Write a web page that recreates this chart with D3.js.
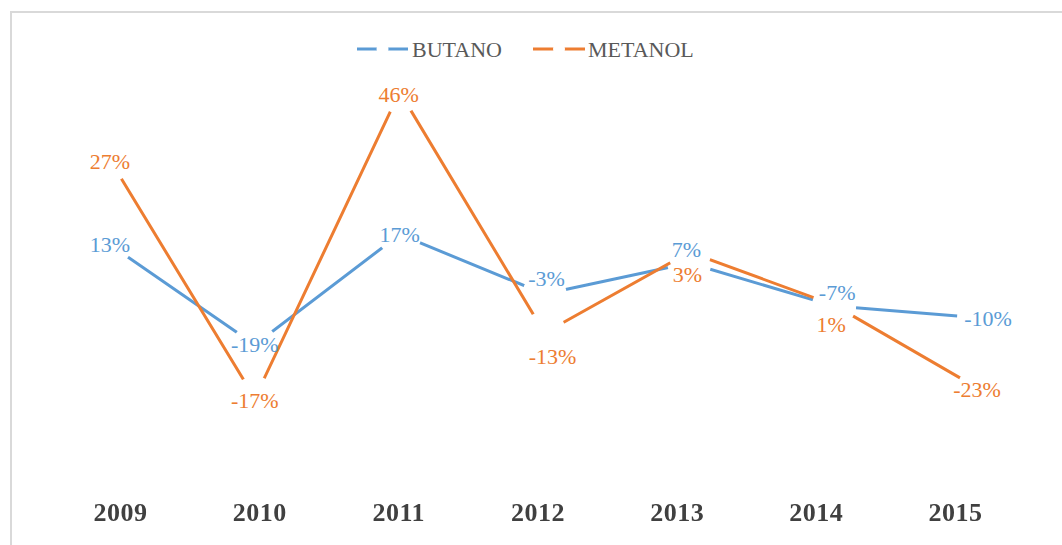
<!DOCTYPE html>
<html>
<head>
<meta charset="utf-8">
<script src="https://cdn.jsdelivr.net/npm/d3@7"></script>
<style>
  html, body { margin: 0; padding: 0; background: #ffffff; }
  svg { display: block; }
</style>
</head>
<body>
<script>
// ---- data ----
const years = ["2009", "2010", "2011", "2012", "2013", "2014", "2015"];
const seriesNames = ["BUTANO", "METANOL"];
// plotted positions (in the chart's value units)
const butanoValues = [13.0, -19.3, 16.3, -2.9, 7.1, -6.8, -10.6];
const metanolValues = [40.3, -36.5, 62.3, -15.5, 10.6, -6.5, -33.5];
// data label texts as printed
const butanoLabels = ["13%", "-19%", "17%", "-3%", "7%", "-7%", "-10%"];
const metanolLabels = ["27%", "-17%", "46%", "-13%", "3%", "1%", "-23%"];

// ---- layout / style ----
const W = 1062, H = 545;
const colors = ["#5B9BD5", "#ED7D31"];
// label nudges (px) relative to each point
const butanoNudge = [[0,0],[0,0],[0,0],[2,-15],[-3,-13],[3,-13],[9,1]];
const metanolNudge = [[0,2],[0,2],[-1,3],[8,24],[-2,22],[-3,19],[-2,1]];

const svg = d3.select("body").append("svg").attr("width", W).attr("height", H);

svg.append("defs").append("filter").attr("id", "soft")
  .append("feGaussianBlur").attr("stdDeviation", 0.6);

// chart border
svg.append("rect").attr("x", 11).attr("y", 12).attr("width", W + 20).attr("height", H + 20)
  .attr("fill", "none").attr("stroke", "#d9d9d9").attr("stroke-width", 2);

const x = d3.scalePoint().domain(years).range([110, 979]);
const xCat = d3.scalePoint().domain(years).range([120.5, 955.5]);
const y = d3.scaleLinear().domain([-60, 80]).range([471, 37]);

const series = [
  { name: seriesNames[0], values: butanoValues, labels: butanoLabels, nudge: butanoNudge, color: colors[0] },
  { name: seriesNames[1], values: metanolValues, labels: metanolLabels, nudge: metanolNudge, color: colors[1] }
];

const line = d3.line().x((d, i) => x(years[i])).y(d => y(d));

series.forEach(s => {
  svg.append("path").datum(s.values).attr("d", line)
    .attr("fill", "none").attr("stroke", s.color).attr("stroke-width", 3)
    .attr("stroke-linejoin", "round");
  svg.append("g").selectAll("circle").data(s.values).join("circle")
    .attr("cx", (d, i) => x(years[i])).attr("cy", d => y(d)).attr("r", 22)
    .attr("fill", "#ffffff");
});

series.forEach(s => {
  svg.append("g").selectAll("text").data(s.values).join("text")
    .attr("x", (d, i) => x(years[i]) + s.nudge[i][0])
    .attr("y", (d, i) => y(d) + s.nudge[i][1] + 7.4)
    .attr("text-anchor", "middle")
    .attr("font-family", "'Liberation Serif', 'Times New Roman', serif")
    .attr("font-size", 22)
    .attr("fill", s.color)
    .text((d, i) => s.labels[i]);
});

// category labels
svg.append("g").attr("filter", "url(#soft)").selectAll("text").data(years).join("text")
  .attr("x", d => xCat(d)).attr("y", 520.5)
  .attr("text-anchor", "middle")
  .attr("font-family", "'Liberation Serif', 'Times New Roman', serif")
  .attr("font-weight", "bold")
  .attr("font-size", 26)
  .attr("letter-spacing", 0.5)
  .attr("fill", "#404040")
  .text(d => d);

// legend
const legendItems = [
  { name: seriesNames[0], color: colors[0], x0: 357, x1: 408, tx: 412 },
  { name: seriesNames[1], color: colors[1], x0: 533, x1: 585, tx: 588 }
];
const lg = svg.append("g");
legendItems.forEach(it => {
  lg.append("line").attr("x1", it.x0).attr("x2", it.x1).attr("y1", 49).attr("y2", 49)
    .attr("stroke", it.color).attr("stroke-width", 3);
  lg.append("circle").attr("cx", (it.x0 + it.x1) / 2).attr("cy", 49).attr("r", 6).attr("fill", "#ffffff");
  lg.append("text").attr("x", it.tx).attr("y", 57)
    .attr("font-family", "'Liberation Serif', 'Times New Roman', serif")
    .attr("font-size", 22).attr("fill", "#595959").text(it.name);
});
</script>
</body>
</html>
